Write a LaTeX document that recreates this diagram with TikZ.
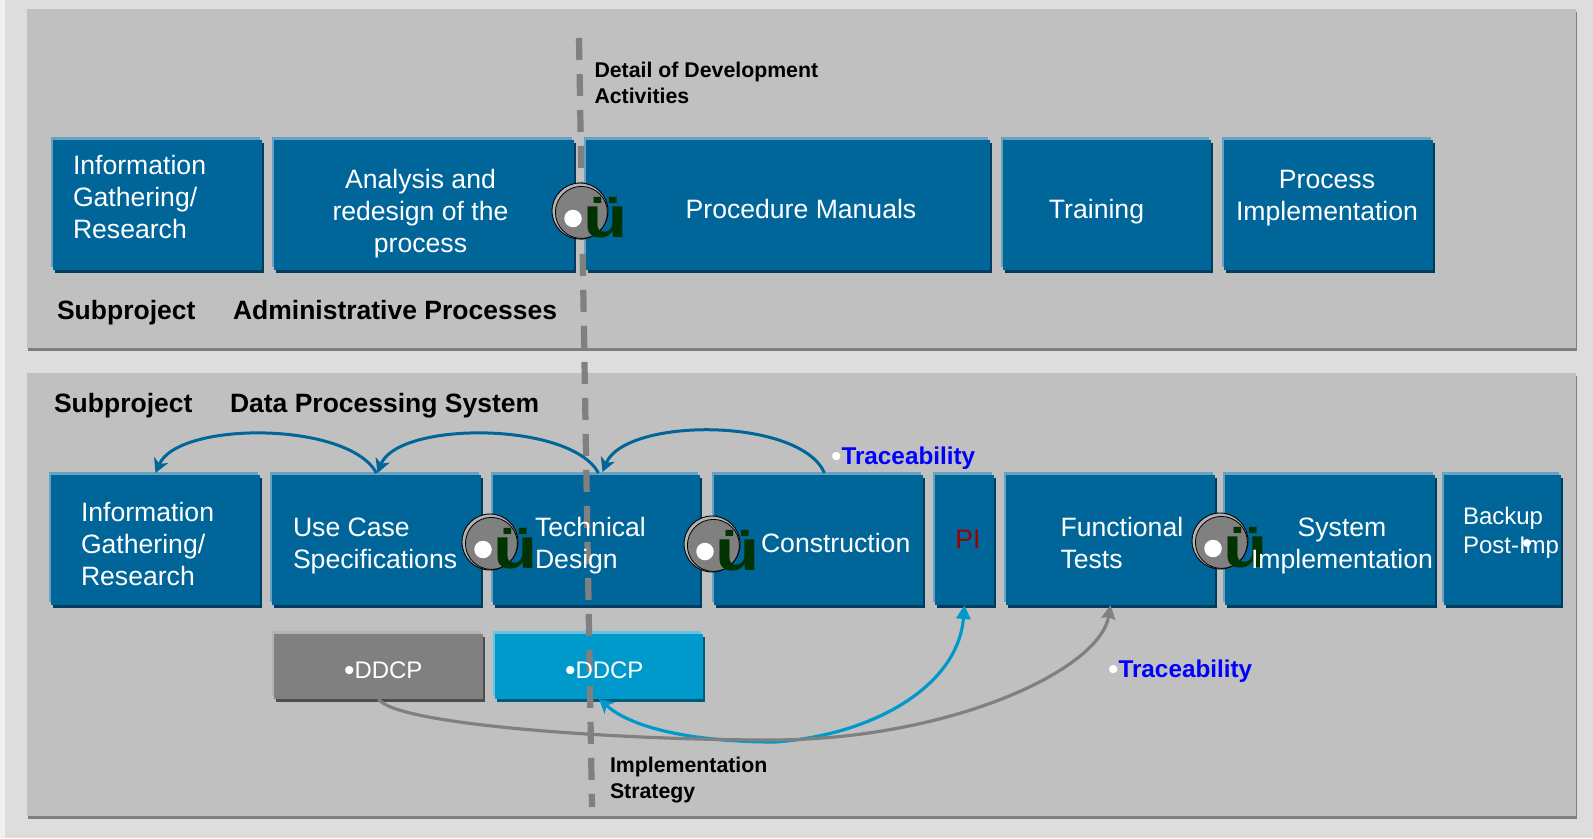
\documentclass[tikz,border=0pt]{standalone}
\usepackage{fontspec}
\setmainfont{Liberation Sans}
\usetikzlibrary{arrows.meta,shadows,calc}
\definecolor{pagebg}{HTML}{DDDDDD}
\definecolor{pageedge}{HTML}{EFEFEF}
\definecolor{panelbg}{HTML}{C0C0C0}
\definecolor{paneledge}{HTML}{7F7F7F}
\definecolor{boxblue}{HTML}{006699}
\definecolor{boxlight}{HTML}{66A3C2}
\definecolor{boxdark}{HTML}{003D5C}
\definecolor{cyanbox}{HTML}{0099CC}
\definecolor{cyanlight}{HTML}{66C2E0}
\definecolor{cyandark}{HTML}{005C7A}
\definecolor{greybox}{HTML}{808080}
\definecolor{greylight}{HTML}{B3B3B3}
\definecolor{greydark}{HTML}{4D4D4D}
\definecolor{okgreen}{HTML}{003300}
\definecolor{plred}{HTML}{990000}
\definecolor{tracblue}{HTML}{0000FF}
\newcommand{\bigbull}{\raisebox{-2.2pt}{\fontsize{30}{30}\selectfont\mdseries •}}
\tikzset{
  panelbox/.style={fill=panelbg,inner sep=0,outer sep=0,
    general shadow={fill=paneledge,shadow xshift=1pt,shadow yshift=-2.5pt}},
  flatbox/.style n args={3}{fill=#1,inner sep=0,outer sep=0,
    general shadow={fill=#2,shadow xshift=-2.2pt,shadow yshift=2.8pt},
    general shadow={fill=#3,shadow xshift=2pt,shadow yshift=-2.5pt}},
  bluebox/.style={flatbox={boxblue}{boxlight}{boxdark}},
  cyanddcp/.style={flatbox={cyanbox}{cyanlight}{cyandark}},
  greyddcp/.style={flatbox={greybox}{greylight}{greydark}},
  boxtext/.style={text=white,inner sep=0,outer sep=0,align=left,font=\fontsize{26.6}{32}\selectfont},
  smalltext/.style={text=white,inner sep=0,outer sep=0,align=left,font=\fontsize{24}{29}\selectfont},
  headtext/.style={text=black,inner sep=0,outer sep=0,anchor=base west,font=\bfseries\fontsize{26.5}{32}\selectfont},
  notetext/.style={text=black,inner sep=0,outer sep=0,anchor=west,align=left,font=\bfseries\fontsize{21.3}{26.5}\selectfont},
  tractext/.style={text=tracblue,inner sep=0,outer sep=0,anchor=base west,font=\bfseries\fontsize{24.3}{29}\selectfont},
  okdisc/.style={circle,draw=black,line width=.9pt,fill=greylight,minimum size=56pt,inner sep=0,outer sep=0},
  okinner/.style={circle,draw=black,line width=.8pt,fill=greybox,minimum size=52pt,inner sep=0,outer sep=0},
  okdot/.style={circle,fill=white,minimum size=17.5pt,inner sep=0,outer sep=0},
  whitedot/.style={circle,fill=white,minimum size=8pt,inner sep=0,outer sep=0},
  okglyph/.style={text=okgreen,inner sep=0,outer sep=0,anchor=base west,font=\bfseries\fontsize{58}{58}\selectfont},
  bluearc/.style={draw=boxblue,line width=3pt,-{Stealth[length=14pt,width=15pt,inset=4pt]}},
  cyanarc/.style={draw=cyanbox,line width=3.2pt,{Stealth[length=14pt,width=15pt,inset=4pt]}-{Stealth[length=14pt,width=14pt,inset=0pt]}},
  greyarc/.style={draw=greybox,line width=3.2pt,-{Stealth[length=14pt,width=14pt,inset=2pt]}},
  divider/.style={draw=greybox,line width=6.2pt,dash pattern=on 22pt off 14pt}
}
\newcommand{\okmark}[3]{%
  \node[okdisc] (#1) at (#2,#3) {};
  \node[okinner] (#1i) at (#2+1.4,#3+1.4) {};
  \node[okdot] (#1d) at (#2-7,#3+7.5) {};
  \node[okglyph] (#1g) at (#2+3,#3+26.5) {\scalebox{1.25}[1]{ü}};
}
\begin{document}
\begin{tikzpicture}[x=1pt,y=-1pt]
\useasboundingbox (0,0) rectangle (1593,838);
\fill[pagebg] (0,0) rectangle (1593,838);
\fill[pageedge] (0,0) rectangle (5,838);
% panels
\node[panelbox,minimum width=1549pt,minimum height=339pt] (toppanel) at (801.5,178.5) {};
\node[panelbox,minimum width=1549pt,minimum height=443pt] (botpanel) at (801.5,594.5) {};
% top row
\node[bluebox,minimum width=209pt,minimum height=130pt] (a1) at (157.5,205) {};
\node[bluebox,minimum width=300pt,minimum height=130pt] (a2) at (424,205) {};
\node[bluebox,minimum width=404pt,minimum height=130pt] (a3) at (788,205) {};
\node[bluebox,minimum width=208pt,minimum height=130pt] (a4) at (1107,205) {};
\node[bluebox,minimum width=209pt,minimum height=130pt] (a5) at (1328.5,205) {};
% bottom row
\node[bluebox,minimum width=209pt,minimum height=130pt] (b1) at (155.5,540) {};
\node[bluebox,minimum width=209pt,minimum height=130pt] (b2) at (376.5,540) {};
\node[bluebox,minimum width=207pt,minimum height=130pt] (b3) at (596.5,540) {};
\node[bluebox,minimum width=209pt,minimum height=130pt] (b4) at (818.5,540) {};
\node[bluebox,minimum width=59pt,minimum height=130pt] (b5) at (964.5,540) {};
\node[bluebox,minimum width=209pt,minimum height=130pt] (b6) at (1110.5,540) {};
\node[bluebox,minimum width=210pt,minimum height=130pt] (b7) at (1330,540) {};
\node[bluebox,minimum width=117pt,minimum height=130pt] (b8) at (1502.5,540) {};
% DDCP boxes
\node[greyddcp,minimum width=209pt,minimum height=65pt] (d1) at (378.5,666.5) {};
\node[cyanddcp,minimum width=208pt,minimum height=65pt] (d2) at (599,666.5) {};
% divider
\coordinate (divtop) at (579,38);
\coordinate (divbot) at (592,807);
\draw[divider] (divtop) -- (divbot);
% ok marks
\okmark{m1}{580}{211}
\okmark{m2}{490}{542}
\okmark{m3}{712}{544}
\okmark{m4}{1220}{541}
% connectors
\draw[bluearc] ([yshift=2pt]b2.north) .. controls (348,421) and (178,421) .. ([yshift=2pt]b1.north);
\draw[bluearc] ([xshift=2pt,yshift=2pt]b3.north) .. controls (570,421) and (398,421) .. ([xshift=1pt,yshift=2pt]b2.north);
\draw[bluearc] ([xshift=6pt,yshift=2pt]b4.north) .. controls (800,417) and (625,417) .. ([xshift=6pt,yshift=3pt]b3.north);
\coordinate (greymid) at (770,740);
\coordinate (cyanmid) at (775,742);
\draw[cyanarc] (d2.south) .. controls (640,735) and (720,742) .. (cyanmid) .. controls (875,735) and (958,685) .. (b5.south);
\draw[greyarc] (d1.south) .. controls (395,725) and (620,740) .. (greymid) .. controls (950,740) and (1100,670) .. (b6.south);
% texts, top row
\node[boxtext,anchor=west] (ta1) at (73,197) {Information\\Gathering/\\Research};
\node[boxtext,anchor=center,align=center] (ta2) at (420.5,214) {Analysis and\\redesign of the\\process};
\node[boxtext,anchor=center,align=center] (ta3) at (801,209) {Procedure Manuals};
\node[boxtext,anchor=center,align=center] (ta4) at (1096.5,212) {Training};
\node[boxtext,anchor=center,align=center] (ta5) at (1327,198.5) {Process\\Implementation};
\node[headtext] (h1a) at (57,319.5) {Subproject};
\node[headtext] (h1b) at (233,319.5) {Administrative Processes};
% texts, bottom row
\node[headtext] (h2a) at (54,412.7) {Subproject};
\node[headtext] (h2b) at (230,412.7) {Data Processing System};
\node[boxtext,anchor=west] (tb1) at (81,544) {Information\\Gathering/\\Research};
\node[boxtext,anchor=west] (tb2) at (293,546) {Use Case\\Specifications};
\node[boxtext,anchor=west] (tb3) at (535,546) {Technical\\Design};
\node[boxtext,anchor=west] (tb4) at (761,543) {Construction};
\node[boxtext,anchor=center,text=plred] (tb5) at (968,539) {PI};
\node[boxtext,anchor=west] (tb6) at (1060.5,543) {Functional\\Tests};
\node[boxtext,anchor=center,align=center] (tb7) at (1342,546) {System\\Implementation};
\node[smalltext,anchor=west] (tb8) at (1463,532.5) {Backup\\Post-Imp};
\node[whitedot] (tb8b) at (1527,543) {};
% DDCP texts
\node[smalltext,anchor=base west] (td1) at (344,678.5) {\bigbull DDCP};
\node[smalltext,anchor=base west] (td2) at (565,678.5) {\bigbull DDCP};
% notes
\node[notetext] (n1) at (594.5,83) {Detail of Development\\Activities};
\node[notetext] (n2) at (610,780) {Implementation\\Strategy};
\node[tractext] (tr1) at (831,464) {\textcolor{white}{\bigbull}Traceability};
\node[tractext] (tr2) at (1108,677) {\textcolor{white}{\bigbull}Traceability};
\end{tikzpicture}
\end{document}
